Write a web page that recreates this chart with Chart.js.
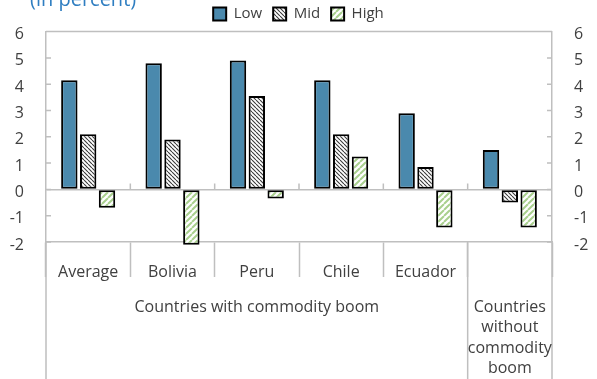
<!DOCTYPE html>
<html>
<head>
<meta charset="utf-8">
<script src="https://cdn.jsdelivr.net/npm/chart.js@4.4.1/dist/chart.umd.min.js"></script>
<style>
    html, body { margin: 0; padding: 0; background: #fff; }
</style>
</head>
<body>
<canvas id="boomChart" width="597" height="379"></canvas>
<script>

// growth gap by country, in percent
const categories = ['Average', 'Bolivia', 'Peru', 'Chile', 'Ecuador', ''];
const lowValues  = [4.15, 4.8, 4.9, 4.15, 2.9, 1.5];
const midValues  = [2.1, 1.9, 3.55, 2.1, 0.85, -0.5];
const highValues = [-0.7, -2.1, -0.35, 1.25, -1.45, -1.45];

const yMin = -2;
const yMax = 6;

// second row of the category axis: label lines + first/last category index
const groupNames = [
    ['Countries with commodity boom'],
    ['Countries', 'without', 'commodity', 'boom']
];
const groupFrom = [0, 5];
const groupTo = [4, 5];

const chartTitle = '(in percent)';

const gridGray = '#bfbfbf';
const textGray = '#404040';
const FONT = '"Open Sans", "Noto Sans", sans-serif';

function hatch(size, color, width, rising) {
    const c = document.createElement('canvas');
    c.width = size;
    c.height = size;
    const g = c.getContext('2d');
    g.fillStyle = '#fff';
    g.fillRect(0, 0, size, size);
    g.strokeStyle = color;
    g.lineWidth = width;
    g.beginPath();
    for (let k = -1; k <= 1; k++) {
        if (rising) {
            g.moveTo(k * size, size);
            g.lineTo(k * size + size, 0);
        } else {
            g.moveTo(k * size, 0);
            g.lineTo(k * size + size, size);
        }
    }
    g.stroke();
    return g.createPattern(c, 'repeat');
}

const ctx = document.getElementById('boomChart').getContext('2d');
const midPattern = hatch(4, '#3a3a3a', 1.1, false);
const highPattern = hatch(6, '#a9d08e', 2, true);

// frame, inner ticks, the lower category row and the cut-off title
const framePlugin = {
    id: 'frame',
    afterDraw(chart) {
        const { ctx, chartArea } = chart;
        const x = chart.scales.x;
        const y = chart.scales.y;
        const n = categories.length;
        const edge = i => {
            if (i <= 0) return x.left;
            if (i >= n) return x.right;
            return (x.getPixelForValue(i - 1) + x.getPixelForValue(i)) / 2;
        };

        ctx.save();
        ctx.strokeStyle = gridGray;
        ctx.lineWidth = 1.5;
        ctx.beginPath();
        // top of frame
        ctx.moveTo(chartArea.left, chartArea.top);
        ctx.lineTo(chartArea.right, chartArea.top);
        // small ticks inside left and right axes
        y.ticks.forEach(t => {
            const py = y.getPixelForValue(t.value);
            ctx.moveTo(chartArea.left, py);
            ctx.lineTo(chartArea.left + 5, py);
            ctx.moveTo(chartArea.right, py);
            ctx.lineTo(chartArea.right - 5, py);
        });
        // category ticks above the zero line
        const zero = y.getPixelForValue(0);
        for (let i = 1; i < n; i++) {
            ctx.moveTo(edge(i), zero);
            ctx.lineTo(edge(i), zero - 6);
        }
        // group dividers down to the bottom
        const cuts = [0];
        groupTo.forEach(t => cuts.push(t + 1));
        cuts.forEach(i => {
            ctx.moveTo(edge(i), chartArea.bottom);
            ctx.lineTo(edge(i), chart.height);
        });
        ctx.stroke();

        // group labels
        ctx.fillStyle = textGray;
        ctx.font = '16px ' + FONT;
        ctx.textAlign = 'center';
        ctx.textBaseline = 'middle';
        groupNames.forEach((lines, g) => {
            const cx = (edge(groupFrom[g]) + edge(groupTo[g] + 1)) / 2;
            lines.forEach((line, j) => {
                ctx.fillText(line, cx, chartArea.bottom + 65 + j * 20.5);
            });
        });

        // title, partly above the canvas
        ctx.fillStyle = '#2f7ec1';
        ctx.font = '20px ' + FONT;
        ctx.textAlign = 'left';
        ctx.textBaseline = 'alphabetic';
        ctx.fillText(chartTitle, 30, 6);
        ctx.restore();
    }
};

const sideAxis = (position, width) => ({
    type: 'linear',
    position: position,
    min: yMin,
    max: yMax,
    afterFit: s => { s.width = width; },
    ticks: {
        stepSize: 1,
        padding: 22,
        labelOffset: 3,
        color: textGray,
        font: { family: FONT, size: 16 }
    },
    grid: {
        drawOnChartArea: position === 'left',
        drawTicks: false,
        lineWidth: 1.5,
        color: c => (c.tick && c.tick.value === 0 ? gridGray : 'rgba(0,0,0,0)')
    },
    border: { color: gridGray, width: 1.5 }
});

window.myChart = new Chart(ctx, {
    type: 'bar',
    data: {
        labels: categories,
        datasets: [
            {
                label: 'Low',
                data: lowValues,
                backgroundColor: '#4a89ad',
                borderColor: '#000',
                borderWidth: 2,
                borderSkipped: false
            },
            {
                label: 'Mid',
                data: midValues,
                backgroundColor: midPattern,
                borderColor: '#000',
                borderWidth: 2,
                borderSkipped: false
            },
            {
                label: 'High',
                data: highValues,
                backgroundColor: highPattern,
                borderColor: '#000',
                borderWidth: 2,
                borderSkipped: false
            }
        ]
    },
    options: {
        responsive: false,
        animation: false,
        layout: { padding: { top: -8, left: 0, right: 0, bottom: 0 } },
        datasets: {
            bar: { categoryPercentage: 0.67, barPercentage: 0.87, clip: false }
        },
        plugins: {
            legend: {
                display: true,
                position: 'top',
                labels: {
                    boxWidth: 13,
                    boxHeight: 13,
                    padding: 11,
                    color: textGray,
                    font: { family: FONT, size: 15 }
                }
            },
            tooltip: { enabled: false }
        },
        scales: {
            x: {
                afterFit: s => { s.height = 137; },
                ticks: {
                    padding: -14,
                    maxRotation: 0,
                    autoSkip: false,
                    color: textGray,
                    font: { family: FONT, size: 16 }
                },
                grid: {
                    offset: true,
                    drawOnChartArea: false,
                    drawTicks: true,
                    tickLength: 35,
                    tickColor: gridGray,
                    tickWidth: 1.5
                },
                border: { color: gridGray, width: 1.5 }
            },
            y: sideAxis('left', 46),
            y2: sideAxis('right', 45)
        }
    },
    plugins: [framePlugin]
});
</script>
</body>
</html>
